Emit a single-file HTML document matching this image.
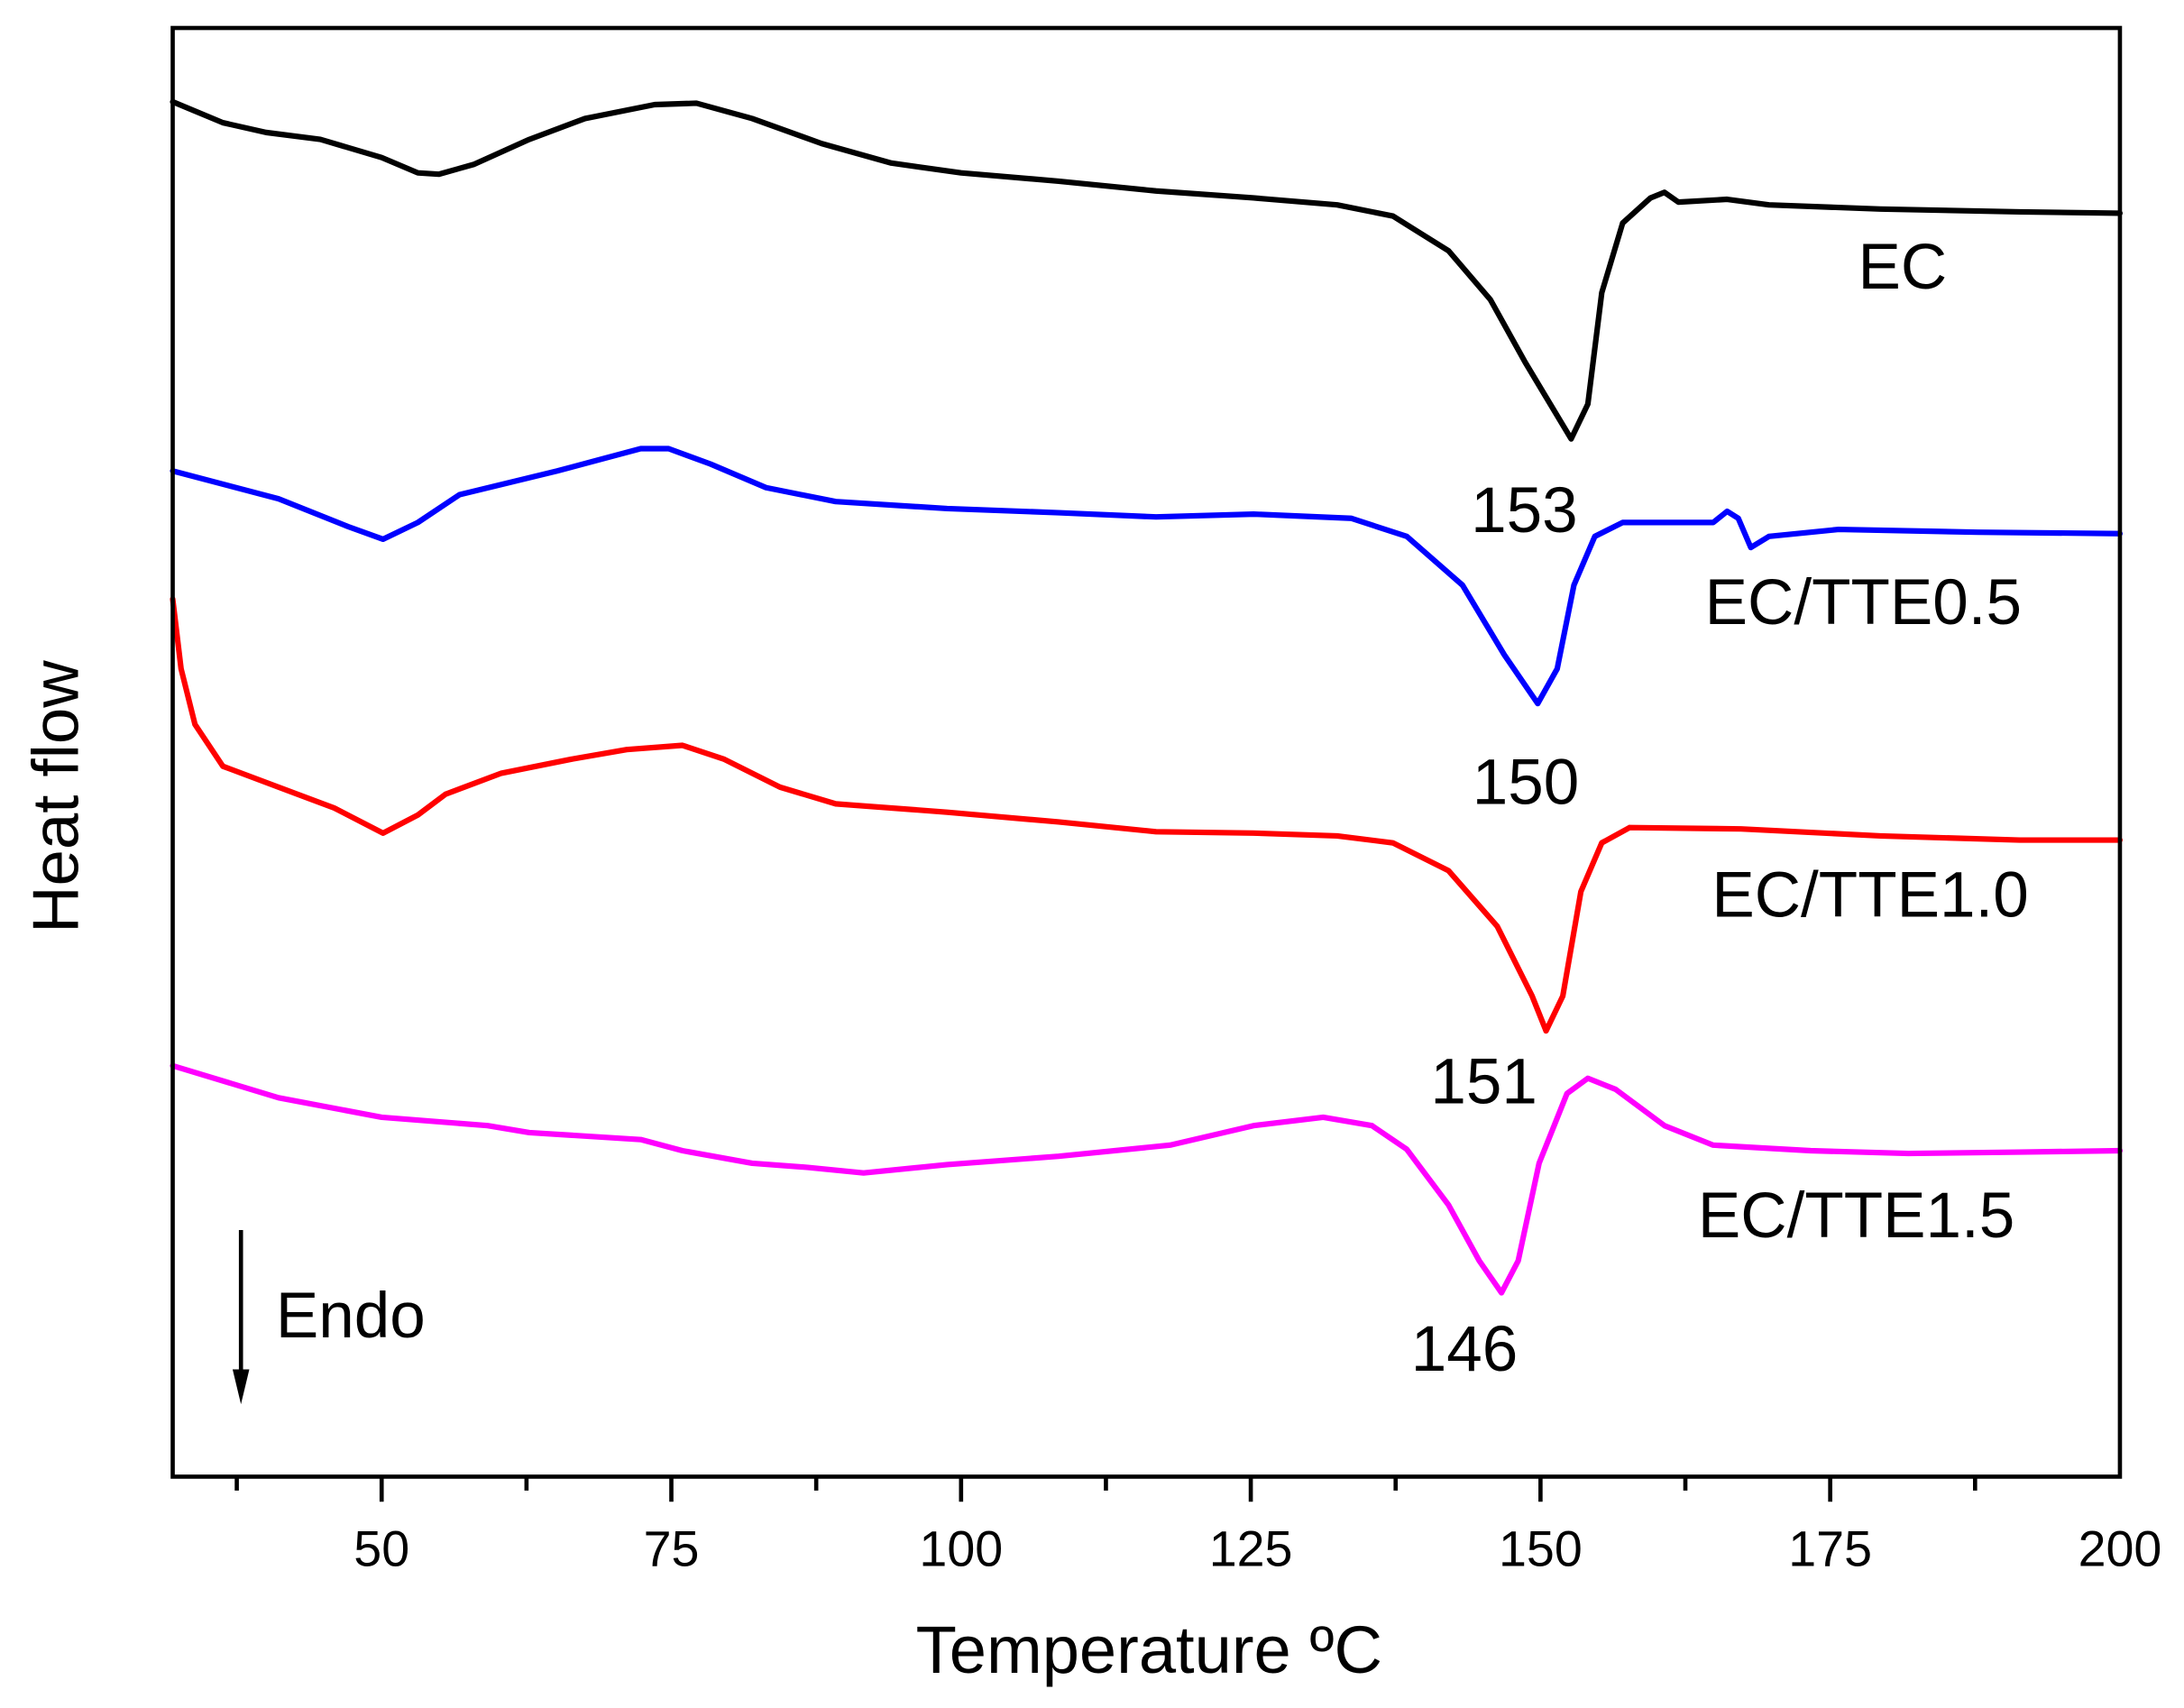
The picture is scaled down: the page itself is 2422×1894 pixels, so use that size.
<!DOCTYPE html>
<html><head><meta charset="utf-8"><style>
html,body{margin:0;padding:0;background:#fff;overflow:hidden;width:2422px;height:1894px;}
svg{display:block;}
text{font-family:"Liberation Sans",Arial,sans-serif;fill:#000;}
</style></head><body>
<svg width="2422" height="1894" viewBox="0 0 1568 1226" xmlns="http://www.w3.org/2000/svg">
<rect x="0" y="0" width="1568" height="1226" fill="#fff"/>
<g fill="none" stroke-linejoin="round" stroke-linecap="round" stroke-width="4">
<polyline stroke="#000" points="124,73 160,88 191,95 230,100 274,113 300,124 315,125 340,118 380,100 420,85 470,75 500,74 540,85 590,103 640,117 690,124 760,130 830,137 900,142 960,147 1000,155 1040,180 1070,215 1095,260 1110,285 1128,315 1140,290 1150,210 1165,160 1185,142 1195,138 1205,145 1240,143 1270,147 1350,150 1450,152 1522,153"/>
<polyline stroke="#0000ff" points="124,338 200,358 250,378 275,387 300,375 330,355 400,338 460,322 480,322 510,333 550,350 600,360 680,365 760,368 830,371 900,369 970,372 1010,385 1050,420 1080,470 1104,505 1118,480 1130,420 1145,385 1165,375 1230,375 1240,367 1248,372 1257,393 1270,385 1320,380 1420,382 1522,383"/>
<polyline stroke="#ff0000" points="124,430 130,480 140,520 160,550 200,565 240,580 275,598 300,585 320,570 360,555 410,545 450,538 490,535 520,545 560,565 600,577 680,583 760,590 830,597 900,598 960,600 1000,605 1040,625 1075,665 1100,715 1110,740 1122,715 1135,640 1150,605 1170,594 1250,595 1350,600 1450,603 1522,603"/>
<polyline stroke="#ff00ff" points="124,765 200,788 274,802 350,808 380,813 460,818 490,826 540,835 580,838 620,842 680,836 760,830 840,822 900,808 950,802 985,808 1010,825 1040,865 1062,905 1078,928 1090,905 1105,835 1125,785 1140,774 1160,782 1195,808 1230,822 1300,826 1370,828 1450,827 1522,826"/>
</g>
<rect x="124" y="20" width="1398" height="1040" fill="none" stroke="#000" stroke-width="3"/>
<g stroke="#000" stroke-width="3">
<line x1="274" y1="1060" x2="274" y2="1078"/><line x1="482" y1="1060" x2="482" y2="1078"/><line x1="690" y1="1060" x2="690" y2="1078"/><line x1="898" y1="1060" x2="898" y2="1078"/><line x1="1106" y1="1060" x2="1106" y2="1078"/><line x1="1314" y1="1060" x2="1314" y2="1078"/>
<line x1="170" y1="1060" x2="170" y2="1070"/><line x1="378" y1="1060" x2="378" y2="1070"/><line x1="586" y1="1060" x2="586" y2="1070"/><line x1="794" y1="1060" x2="794" y2="1070"/><line x1="1002" y1="1060" x2="1002" y2="1070"/><line x1="1210" y1="1060" x2="1210" y2="1070"/><line x1="1418" y1="1060" x2="1418" y2="1070"/>
<line x1="173" y1="883" x2="173" y2="985"/>
</g>
<polygon points="167,983 179,983 173,1008" fill="#000"/>
<g font-size="36" text-anchor="middle">
<text x="274" y="1124">50</text><text x="482" y="1124">75</text><text x="690" y="1124">100</text><text x="898" y="1124">125</text><text x="1106" y="1124">150</text><text x="1314" y="1124">175</text><text x="1522" y="1124">200</text>
</g>
<text x="825" y="1201" font-size="48" text-anchor="middle">Temperature ºC</text>
<text transform="translate(56,572) rotate(-90)" font-size="47" text-anchor="middle">Heat flow</text>
<g font-size="46">
<text x="1334" y="207">EC</text>
<text x="1056" y="382">153</text>
<text x="1224" y="448">EC/TTE0.5</text>
<text x="1057" y="577">150</text>
<text x="1229" y="658">EC/TTE1.0</text>
<text x="1027" y="792">151</text>
<text x="1219" y="888">EC/TTE1.5</text>
<text x="1013" y="984">146</text>
<text x="198" y="960">Endo</text>
</g>
</svg>
</body></html>
